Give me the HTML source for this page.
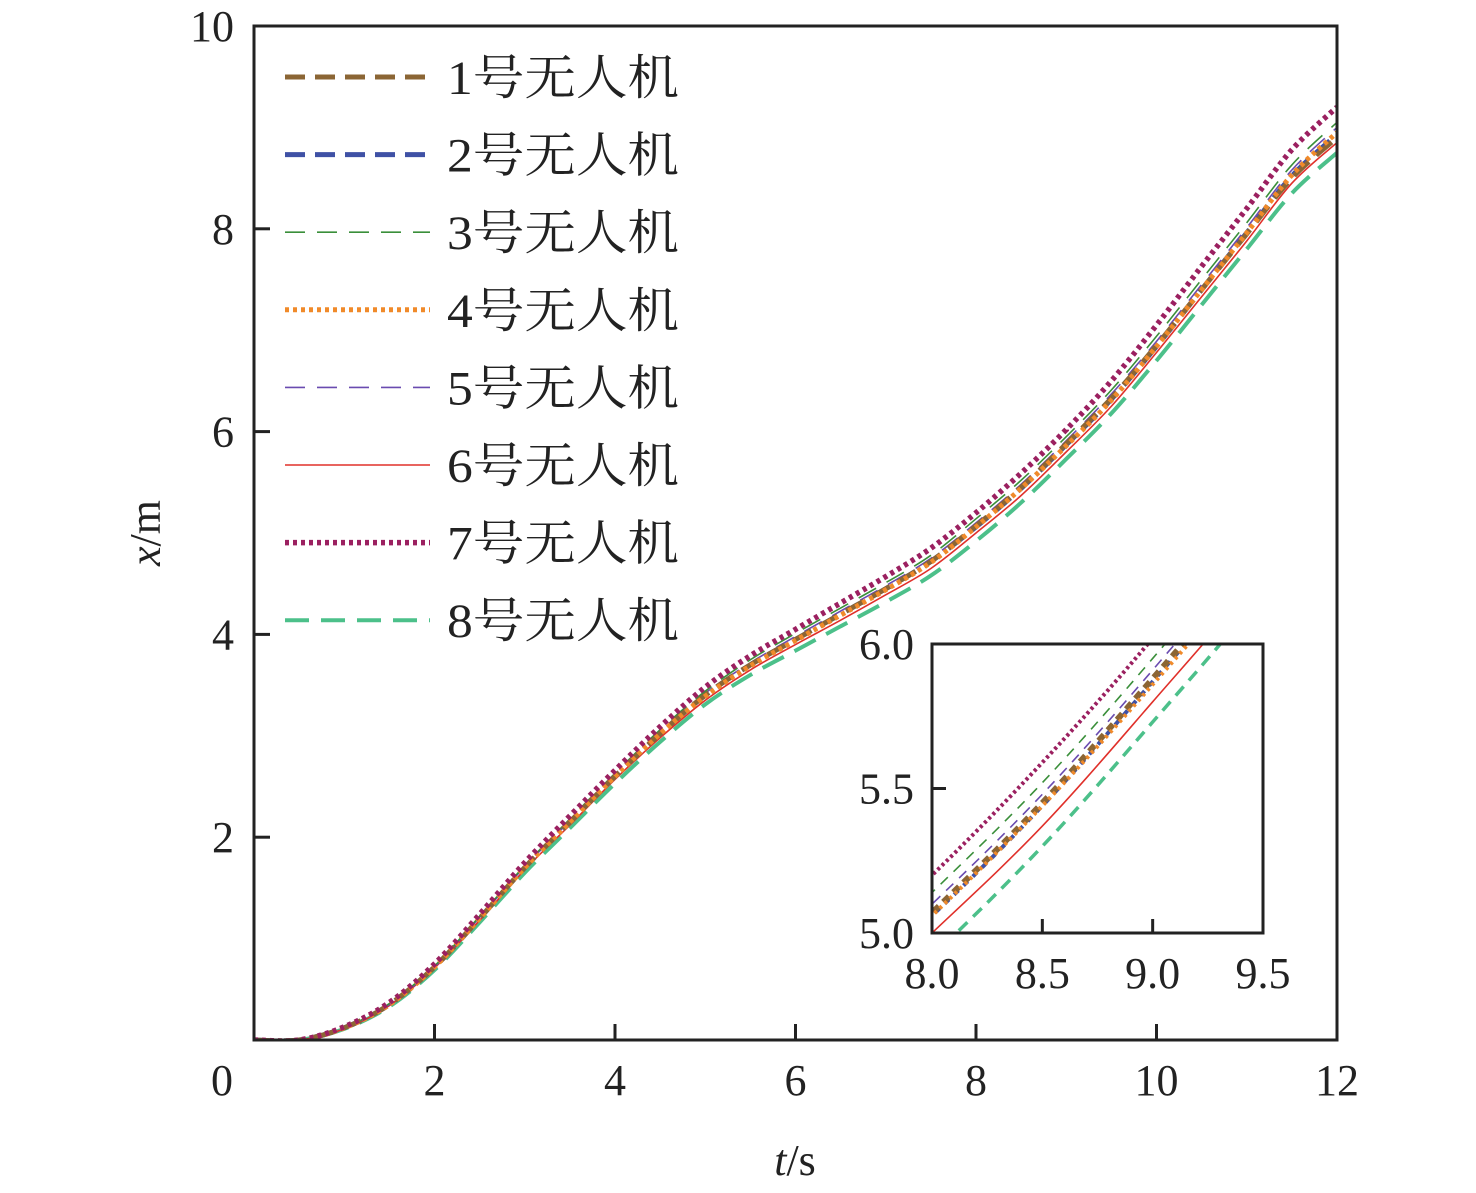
<!DOCTYPE html>
<html><head><meta charset="utf-8"><style>
html,body{margin:0;padding:0;background:#fff;overflow:hidden;width:1476px;height:1193px}
svg{display:block}
text{font-family:"Liberation Serif","Noto Serif CJK SC",serif;fill:#222}
</style></head><body>
<svg id="chart" width="1476" height="1193" viewBox="0 0 1476 1193" xmlns="http://www.w3.org/2000/svg">
<defs>
<clipPath id="mainClip"><rect x="254" y="26" width="1083" height="1014"/></clipPath>
<clipPath id="insetClip"><rect x="932" y="644" width="331" height="289"/></clipPath>
</defs>
<g id="main-series" clip-path="url(#mainClip)"></g>
<rect x="254" y="26" width="1083" height="1014" fill="none" stroke="#222" stroke-width="3"/>
<g id="main-ticks"></g>
<text x="795" y="1175" font-size="44" text-anchor="middle"><tspan font-style="italic">t</tspan>/s</text>
<text transform="translate(160,533) rotate(-90)" font-size="44" text-anchor="middle"><tspan font-style="italic">x</tspan>/m</text>
<g id="legend"></g>
<rect x="932" y="644" width="331" height="289" fill="#fff"/>
<g id="inset-series" clip-path="url(#insetClip)"></g>
<rect x="932" y="644" width="331" height="289" fill="none" stroke="#222" stroke-width="3"/>
<g id="inset-ticks"></g>
</svg>
<script>
const times = [0,0.5,1,1.5,2,2.5,3,3.5,4,4.5,5,5.5,6,6.5,7,7.5,8,8.5,9,9.5,10,10.5,11,11.5,12];
const uav1 = [0,0,0.12,0.35,0.72,1.2,1.7,2.15,2.6,3.02,3.4,3.7,3.95,4.2,4.45,4.72,5.07,5.45,5.88,6.33,6.85,7.4,7.95,8.5,8.9];
const uav2 = [0,0,0.12,0.35,0.72,1.2,1.7,2.15,2.6,3.02,3.4,3.7,3.95,4.2,4.45,4.72,5.06,5.44,5.87,6.32,6.84,7.4,7.96,8.52,8.93];
const uav3 = [0,0,0.12,0.36,0.73,1.22,1.72,2.18,2.63,3.06,3.44,3.75,4.01,4.26,4.51,4.78,5.14,5.52,5.95,6.41,6.94,7.5,8.06,8.63,9.05];
const uav4 = [0,0,0.12,0.35,0.72,1.2,1.7,2.15,2.6,3.02,3.39,3.69,3.94,4.19,4.44,4.71,5.06,5.44,5.86,6.31,6.84,7.4,7.96,8.53,8.95];
const uav5 = [0,0,0.12,0.35,0.72,1.21,1.71,2.16,2.61,3.04,3.42,3.72,3.98,4.23,4.48,4.75,5.1,5.48,5.91,6.37,6.89,7.45,8.01,8.58,9.0];
const uav6 = [0,0,0.11,0.34,0.71,1.18,1.68,2.12,2.57,2.98,3.35,3.65,3.9,4.14,4.39,4.65,5.0,5.37,5.8,6.25,6.78,7.33,7.88,8.45,8.85];
const uav7 = [0,0,0.13,0.37,0.75,1.24,1.75,2.21,2.66,3.09,3.48,3.79,4.05,4.31,4.57,4.85,5.2,5.59,6.02,6.5,7.05,7.63,8.2,8.78,9.2];
const uav8 = [0,0,0.11,0.33,0.69,1.16,1.65,2.09,2.53,2.94,3.31,3.6,3.84,4.08,4.32,4.58,4.92,5.3,5.73,6.18,6.7,7.25,7.8,8.35,8.75];
const seriesLabels = ["1号无人机","2号无人机","3号无人机","4号无人机","5号无人机","6号无人机","7号无人机","8号无人机"];
const xTicks = [0,2,4,6,8,10,12];
const yTicks = [2,4,6,8,10];
const insetXTicks = [8.0,8.5,9.0,9.5];
const insetYTicks = [5.0,5.5,6.0];

const allSeries = [uav1,uav2,uav3,uav4,uav5,uav6,uav7,uav8];
const styles = [
 {c:"#8B6534",w:5,d:"20 10",iw:6,id:"8 6"},
 {c:"#3F51A5",w:5,d:"20 10",iw:4,id:"6 7"},
 {c:"#3A8F3A",w:1.6,d:"20 12",iw:1.6,id:"10 8"},
 {c:"#F08A2A",w:5,d:"4 4",iw:4,id:"3 4"},
 {c:"#6A4BB0",w:1.6,d:"20 12",iw:1.6,id:"10 8"},
 {c:"#E0302A",w:1.6,d:"",iw:1.6,id:""},
 {c:"#9B2060",w:5.5,d:"4 4",iw:4,id:"3 3"},
 {c:"#4CC08A",w:4,d:"24 12",iw:3.5,id:"12 8"}
];
const NS="http://www.w3.org/2000/svg";
const sx = t => 254 + (t-0)/12*1083;
const sy = v => 1040 - v/10*1014;
const ix = t => 932 + (t-8)/1.5*331;
const iy = v => 933 - (v-5)/1*289;

function pathFor(xs, ys, fx, fy){
  const p = xs.map((t,i)=>[fx(t),fy(ys[i])]);
  let d = "M"+p[0][0]+","+p[0][1];
  for(let i=0;i<p.length-1;i++){
    const p0=p[Math.max(i-1,0)],p1=p[i],p2=p[i+1],p3=p[Math.min(i+2,p.length-1)];
    const c1=[p1[0]+(p2[0]-p0[0])/6,p1[1]+(p2[1]-p0[1])/6];
    const c2=[p2[0]-(p3[0]-p1[0])/6,p2[1]-(p3[1]-p1[1])/6];
    d+=" C"+c1[0]+","+c1[1]+" "+c2[0]+","+c2[1]+" "+p2[0]+","+p2[1];
  }
  return d;
}
function mk(tag, attrs, parent){
  const e=document.createElementNS(NS,tag);
  for(const k in attrs) e.setAttribute(k,attrs[k]);
  parent.appendChild(e); return e;
}
const mainG=document.getElementById("main-series");
const insetG=document.getElementById("inset-series");
const legG=document.getElementById("legend");
const order=[7,5,4,2,1,0,3,6];
order.forEach(i=>{
  const s=styles[i];
  const a={d:pathFor(times,allSeries[i],sx,sy),fill:"none",stroke:s.c,"stroke-width":s.w};
  if(s.d) a["stroke-dasharray"]=s.d;
  const el=mk("path",a,mainG);
  
  
  const b={d:pathFor(times,allSeries[i],ix,iy),fill:"none",stroke:s.c,"stroke-width":s.iw};
  if(s.id) b["stroke-dasharray"]=s.id;
  const el2=mk("path",b,insetG);
  
  
});
seriesLabels.forEach((lab,i)=>{
  const s=styles[i], y=77+i*77.6;
  const a={x1:285,x2:430,y1:y,y2:y,stroke:s.c,"stroke-width":s.w};
  if(s.d) a["stroke-dasharray"]=s.d;
  const ln=mk("line",a,legG);
  
  
  const tx=mk("text",{x:447,y:y+17,"font-size":48,textLength:232,lengthAdjust:"spacingAndGlyphs"},legG);
  tx.textContent=lab;
  
  
});
const mt=document.getElementById("main-ticks");
xTicks.forEach(t=>{
  if(t>0&&t<12){const l=mk("line",{x1:sx(t),x2:sx(t),y1:1040,y2:1024,stroke:"#222","stroke-width":3},mt);
  
  }
  const tx=mk("text",{x:t===0?222:sx(t),y:1095,"font-size":44,"text-anchor":"middle"},mt);
  tx.textContent=t;
  
  
});
yTicks.forEach(v=>{
  if(v<10){const l=mk("line",{x1:254,x2:270,y1:sy(v),y2:sy(v),stroke:"#222","stroke-width":3},mt);
  
  }
  const tx=mk("text",{x:234,y:sy(v)+15,"font-size":44,"text-anchor":"end"},mt);
  tx.textContent=v;
  
  
});
const it=document.getElementById("inset-ticks");
insetXTicks.forEach(t=>{
  if(t>8&&t<9.5){const l=mk("line",{x1:ix(t),x2:ix(t),y1:933,y2:919,stroke:"#222","stroke-width":3},it);
  
  }
  const tx=mk("text",{x:ix(t),y:988,"font-size":44,"text-anchor":"middle"},it);
  tx.textContent=t.toFixed(1);
  
  
});
insetYTicks.forEach(v=>{
  if(v>5&&v<6){const l=mk("line",{x1:932,x2:946,y1:iy(v),y2:iy(v),stroke:"#222","stroke-width":3},it);
  
  }
  const tx=mk("text",{x:914,y:iy(v)+15,"font-size":44,"text-anchor":"end"},it);
  tx.textContent=v.toFixed(1);
  
  
});
</script>
</body></html>
